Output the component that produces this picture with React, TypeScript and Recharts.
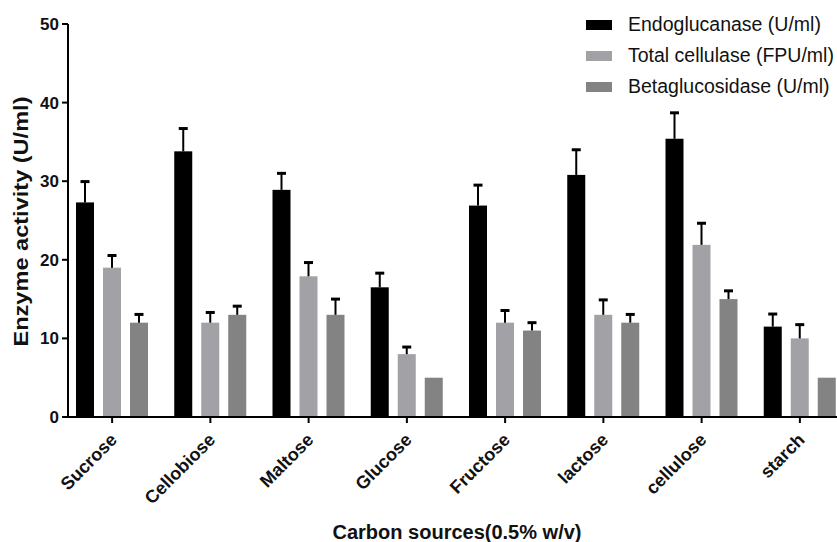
import React from 'react';
import { BarChart, Bar, XAxis, YAxis } from 'recharts';

const categories = ['Sucrose', 'Cellobiose', 'Maltose', 'Glucose', 'Fructose', 'lactose', 'cellulose', 'starch'];
const endoglucanase = [27.3, 33.8, 28.9, 16.5, 26.9, 30.8, 35.4, 11.5];
const endoglucanaseErr = [2.65, 2.9, 2.1, 1.8, 2.6, 3.2, 3.3, 1.6];
const totalCellulase = [19.0, 12.0, 17.9, 8.0, 12.0, 13.0, 21.9, 10.0];
const totalCellulaseErr = [1.55, 1.3, 1.75, 0.9, 1.55, 1.9, 2.75, 1.75];
const betaglucosidase = [12.0, 13.0, 13.0, 5.0, 11.0, 12.0, 15.0, 5.0];
const betaglucosidaseErr = [1.05, 1.1, 2.0, 0, 1.0, 1.05, 1.05, 0];
const yTicks = [0, 10, 20, 30, 40, 50];

const seriesNames = ['Endoglucanase (U/ml)', 'Total cellulase (FPU/ml)', 'Betaglucosidase (U/ml)'];
const seriesColors = ['#000000', '#a2a2a6', '#838383'];

const data = categories.map((c, i) => ({
  name: c,
  endo: endoglucanase[i],
  endoErr: endoglucanaseErr[i],
  total: totalCellulase[i],
  totalErr: totalCellulaseErr[i],
  beta: betaglucosidase[i],
  betaErr: betaglucosidaseErr[i],
}));

const FONT = '"Liberation Sans", Arial, Helvetica, sans-serif';

const makeShape = (key: string, errKey: string) => (props: any) => {
  const { x, y, width, height, fill, payload } = props;
  const v = payload[key];
  const e = payload[errKey];
  const cx = x + width / 2;
  const pxPerUnit = v ? height / v : 0;
  const top = y - e * pxPerUnit;
  return (
    <g>
      <rect x={x} y={y} width={width} height={height} fill={fill} />
      {e > 0 && (
        <g stroke="#000">
          <line x1={cx} x2={cx} y1={y} y2={top} strokeWidth={2} />
          <line x1={cx - 4.5} x2={cx + 4.5} y1={top} y2={top} strokeWidth={3} />
        </g>
      )}
    </g>
  );
};

const XTick = (props: any) => {
  const { x, y, payload } = props;
  return (
    <text
      x={x + 6}
      y={y + 16}
      textAnchor="end"
      transform={`rotate(-45, ${x + 6}, ${y + 16})`}
      fontFamily={FONT}
      fontWeight="bold"
      fontSize={18}
      fill="#111"
    >
      {payload.value}
    </text>
  );
};

const XTitle = (props: any) => {
  const vb = props.viewBox;
  return (
    <text
      x={vb.x + vb.width / 2 + 4.5}
      y={vb.y + 121.5}
      textAnchor="middle"
      fontFamily={FONT}
      fontWeight="bold"
      fontSize={20}
      fill="#111"
    >
      Carbon sources(0.5% w/v)
    </text>
  );
};

const YTitle = (props: any) => {
  const vb = props.viewBox;
  const cx = vb.x + 28;
  const cy = vb.y + vb.height / 2 + 1;
  return (
    <text
      x={cx}
      y={cy}
      textAnchor="middle"
      transform={`rotate(-90, ${cx}, ${cy})`}
      fontFamily={FONT}
      fontWeight="bold"
      fontSize={19.5}
      fill="#111"
      textLength={250}
      lengthAdjust="spacingAndGlyphs"
    >
      Enzyme activity (U/ml)
    </text>
  );
};

export default function App() {
  return (
    <div style={{ position: 'absolute', left: 0, top: 0, width: 837, height: 542, overflow: 'hidden', background: '#fff' }}>
      <BarChart
        width={837}
        height={542}
        data={data}
        margin={{ top: 24, right: 0, bottom: 0, left: 0 }}
        barSize={18}
        barGap={9}
      >
        <XAxis
          dataKey="name"
          height={125}
          padding={{ left: -5, right: -12 }}
          interval={0}
          tick={<XTick />}
          tickSize={6}
          tickLine={{ stroke: '#000', strokeWidth: 2 }}
          axisLine={{ stroke: '#000', strokeWidth: 2 }}
          label={XTitle}
        />
        <YAxis
          width={68}
          domain={[0, 50]}
          ticks={yTicks}
          interval={0}
          tickSize={6}
          tickMargin={3}
          tickLine={{ stroke: '#000', strokeWidth: 2 }}
          axisLine={{ stroke: '#000', strokeWidth: 2 }}
          tick={{ fontFamily: FONT, fontWeight: 'bold', fontSize: 17, fill: '#111' }}
          label={YTitle}
        />
        <Bar dataKey="endo" fill={seriesColors[0]} isAnimationActive={false} shape={makeShape('endo', 'endoErr')} />
        <Bar dataKey="total" fill={seriesColors[1]} isAnimationActive={false} shape={makeShape('total', 'totalErr')} />
        <Bar dataKey="beta" fill={seriesColors[2]} isAnimationActive={false} shape={makeShape('beta', 'betaErr')} />
      </BarChart>
      <div style={{ position: 'absolute', left: 586, top: 9, fontFamily: FONT, fontSize: 19.5, color: '#111' }}>
        {seriesNames.map((n, i) => (
          <div key={n} style={{ display: 'flex', alignItems: 'center', height: 31, whiteSpace: 'nowrap' }}>
            <span style={{ display: 'inline-block', width: 26, height: 10, background: seriesColors[i], marginRight: 16 }} />
            <span>{n}</span>
          </div>
        ))}
      </div>
    </div>
  );
}
